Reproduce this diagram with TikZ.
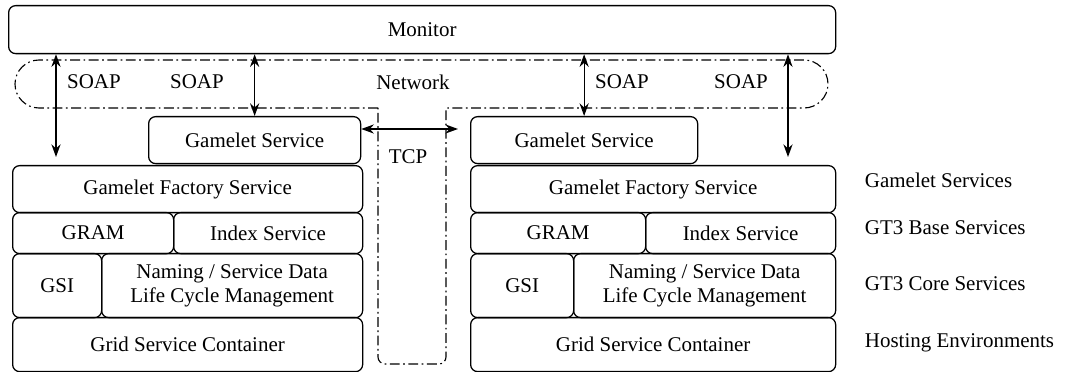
\documentclass[tikz,border=0pt]{standalone}
\usepackage{fontspec}
\newfontfamily\boxfont{Liberation Serif}
\usetikzlibrary{arrows.meta}

\begin{document}
\begin{tikzpicture}[x=0.025cm, y=-0.025cm,
        font=\boxfont\fontsize{14.9}{17.5}\selectfont,
        box/.style={draw, rounded corners=5pt, line width=0.9pt, inner sep=0pt, align=center, anchor=north west},
        link/.style={<->, line width=0.9pt, >={Stealth[length=9pt,width=6.5pt]}},
        net/.style={line width=0.8pt, dash pattern=on 7pt off 2.5pt on 1.2pt off 2.5pt}]
        \def\px{0.025cm}
        \useasboundingbox (0,0) rectangle (1080,372);

        % monitor on top
        \node[box, minimum width=827*\px, minimum height=48*\px] (mon) at (8,5) {Monitor};

        % network band with the tcp channel between both hosts
        \draw[net] (378,108) [rounded corners=0.6cm] -- (15,108) -- (15,60) -- (828,60) -- (828,108)
            [sharp corners] -- (446,108) [rounded corners=5pt] -- (446,364) -- (378,364) [sharp corners] -- cycle;
        \node (net) at (413,82) {Network};

        % two service stacks
        \foreach \s/\xa/\xb/\xg/\xi in {L/12/362/173/101, R/470/835/645/573} {
            \node[box, minimum width={(\xb-\xa)*\px}, minimum height=47*\px] (fac\s) at (\xa,165) {Gamelet Factory Service};
            \node[box, minimum width={(\xg-\xa)*\px}, minimum height=41*\px] (gram\s) at (\xa,212) {GRAM};
            \node[box, minimum width={(\xb-\xg)*\px}, minimum height=41*\px] (idx\s) at (\xg,212) {Index Service};
            \node[box, minimum width={(\xi-\xa)*\px}, minimum height=64*\px] (gsi\s) at (\xa,253) {GSI};
            \node[box, minimum width={(\xb-\xi)*\px}, minimum height=64*\px] (name\s) at (\xi,253) {Naming / Service Data\\Life Cycle Management};
            \node[box, minimum width={(\xb-\xa)*\px}, minimum height=54*\px] (cont\s) at (\xa,317) {Grid Service Container};
        }
        \node[box, minimum width=212*\px, minimum height=47*\px] (gsL) at (148,116) {Gamelet Service};
        \node[box, minimum width=227*\px, minimum height=47*\px] (gsR) at (470,116) {Gamelet Service};

        % layer names
        \node[anchor=west] (lyrA) at (860,180) {Gamelet Services};
        \node[anchor=west] (lyrB) at (860,228) {GT3 Base Services};
        \node[anchor=west] (lyrC) at (860,284) {GT3 Core Services};
        \node[anchor=west] (lyrD) at (860,343) {Hosting Environments};

        % soap links to the monitor
        \coordinate (endA) at (56,157);
        \coordinate (endD) at (788,157);
        \draw[link] (endA |- mon.south) -- (endA);
        \draw[link] (gsL.north |- mon.south) -- (gsL.north);
        \draw[link] (gsR.north |- mon.south) -- (gsR.north);
        \draw[link] (endD |- mon.south) -- (endD);
        \node (soapA) at (94,82) {SOAP};
        \node (soapB) at (197,82) {SOAP};
        \node (soapC) at (622,82) {SOAP};
        \node (soapD) at (741,82) {SOAP};

        % tcp link
        \coordinate (endT) at (458,129);
        \draw[link] (gsL.east |- endT) -- (endT);
        \node (tcp) at (408,157) {TCP};
    \end{tikzpicture}
\end{document}
